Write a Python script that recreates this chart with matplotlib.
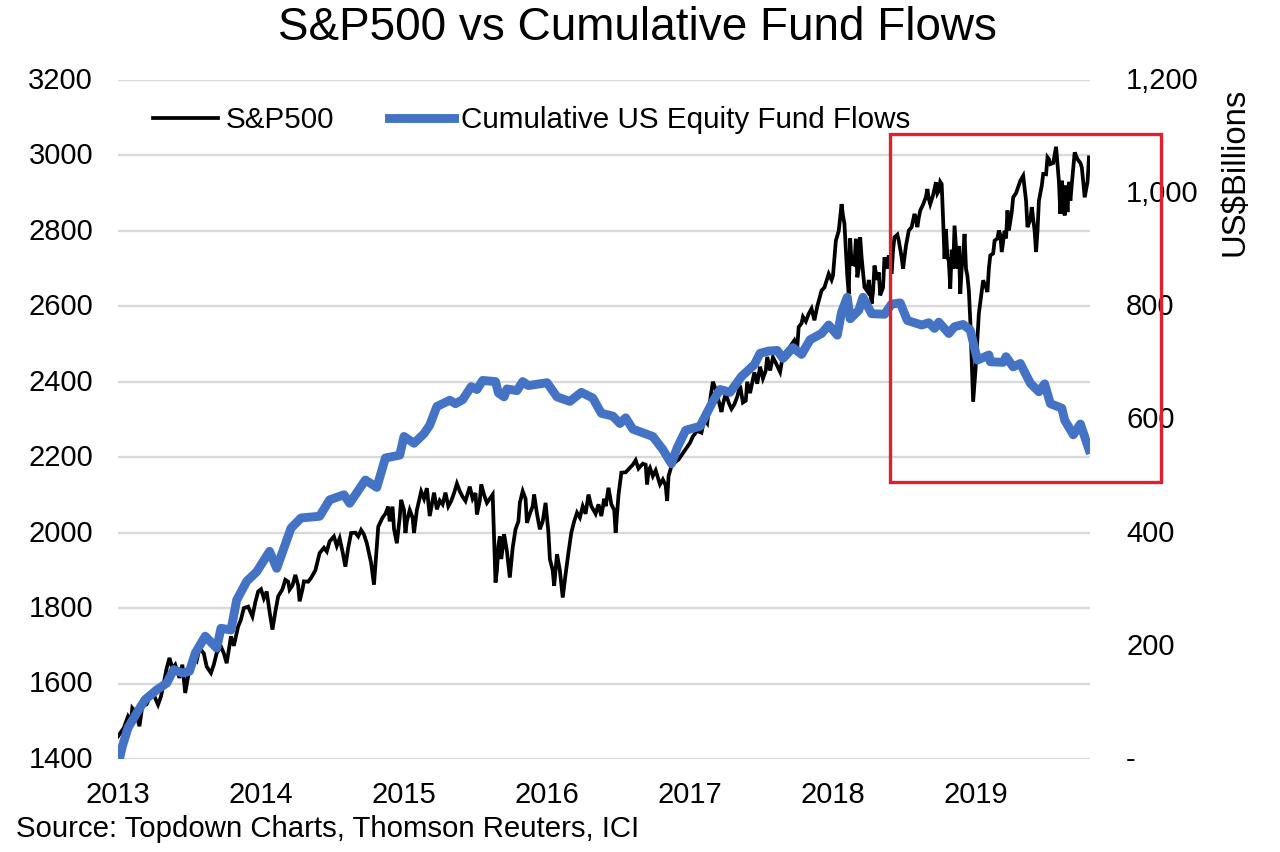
#!/usr/bin/env python3

import matplotlib
matplotlib.use('Agg')
import matplotlib.pyplot as plt
from matplotlib.patches import Rectangle
from matplotlib.transforms import ScaledTranslation
import numpy as np

plt.rcParams['font.family'] = ['Liberation Sans', 'DejaVu Sans']

# years since start of 2013
sp_t = [0.00, 0.04, 0.07, 0.12, 0.15, 0.17, 0.22, 0.28, 0.32, 0.36, 0.40, 0.43, 0.45, 0.47, 0.52, 0.57,
        0.62, 0.65, 0.69, 0.72, 0.76, 0.79, 0.84, 0.88, 0.91, 0.94, 0.98, 1.02, 1.04, 1.08, 1.12, 1.17,
        1.20, 1.24, 1.27, 1.30, 1.35, 1.41, 1.48, 1.55, 1.59, 1.63, 1.70, 1.74, 1.79, 1.82, 1.89, 1.92,
        1.95, 1.98, 2.01, 2.04, 2.07, 2.12, 2.16, 2.18, 2.21, 2.23, 2.29, 2.33, 2.37, 2.43, 2.46, 2.51,
        2.54, 2.58, 2.62, 2.64, 2.66, 2.68, 2.70, 2.74, 2.78, 2.81, 2.83, 2.86, 2.91, 2.95, 2.99, 3.02,
        3.05, 3.07, 3.11, 3.15, 3.21, 3.25, 3.29, 3.38, 3.43, 3.45, 3.48, 3.52, 3.58, 3.62, 3.67, 3.70,
        3.72, 3.79, 3.81, 3.84, 3.87, 3.92, 4.00, 4.05, 4.12, 4.16, 4.20, 4.23, 4.29, 4.33, 4.37, 4.40,
        4.45, 4.49, 4.51, 4.54, 4.63, 4.70, 4.76, 4.79, 4.85, 4.87, 4.92, 4.97, 5.00, 5.02, 5.06, 5.08,
        5.11, 5.13, 5.16, 5.17, 5.19, 5.22, 5.27, 5.29, 5.33, 5.36, 5.39, 5.41, 5.43, 5.46, 5.49, 5.53,
        5.57, 5.59, 5.61, 5.66, 5.68, 5.72, 5.74, 5.76, 5.78, 5.79, 5.82, 5.85, 5.89, 5.92, 5.95, 5.96,
        5.98, 6.02, 6.05, 6.08, 6.10, 6.13, 6.16, 6.18, 6.22, 6.23, 6.26, 6.31, 6.33, 6.36, 6.39, 6.42,
        6.44, 6.47, 6.50, 6.52, 6.56, 6.59, 6.60, 6.62, 6.67, 6.69, 6.74, 6.76, 6.79]
sp_values = [1460, 1482, 1513, 1526, 1487, 1540, 1562, 1544, 1601, 1668, 1650, 1615, 1650, 1575, 1672, 1694,
             1645, 1628, 1681, 1698, 1654, 1725, 1751, 1800, 1804, 1778, 1844, 1826, 1844, 1743, 1831, 1875,
             1849, 1888, 1818, 1871, 1880, 1946, 1977, 1985, 1910, 1999, 2007, 1972, 1862, 2016, 2069, 2069,
             1972, 2087, 1999, 2060, 1999, 2109, 2118, 2044, 2106, 2062, 2106, 2084, 2130, 2084, 2122, 2048,
             2128, 2079, 2101, 1868, 1965, 1930, 1996, 1881, 2009, 2079, 2110, 2026, 2101, 2009, 2079, 1930,
             1859, 1943, 1828, 1947, 2053, 2070, 2101, 2044, 2119, 2075, 2000, 2159, 2172, 2192, 2183, 2128,
             2172, 2128, 2141, 2084, 2176, 2194, 2238, 2270, 2290, 2400, 2350, 2340, 2328, 2360, 2345, 2400,
             2425, 2440, 2409, 2466, 2426, 2493, 2545, 2572, 2594, 2563, 2642, 2686, 2682, 2774, 2871, 2819,
             2633, 2713, 2779, 2677, 2783, 2651, 2607, 2708, 2629, 2730, 2735, 2686, 2783, 2774, 2700, 2801,
             2845, 2810, 2854, 2911, 2871, 2929, 2907, 2924, 2726, 2805, 2647, 2814, 2633, 2792, 2642, 2563,
             2347, 2581, 2669, 2638, 2735, 2774, 2801, 2744, 2854, 2801, 2889, 2933, 2946, 2810, 2863, 2744,
             2880, 2951, 2995, 2977, 3023, 2845, 2933, 2841, 2924, 3008, 2968, 2889, 2995]

# smaller weekly wiggles, read separately
sp_fine_t = [0.09, 0.10, 0.20, 0.25, 0.30, 0.34, 0.38, 0.50, 0.55, 0.60, 0.67, 0.74, 0.81, 0.86, 0.96, 1.00,
             1.06, 1.10, 1.15, 1.19, 1.22, 1.26, 1.29, 1.33, 1.38, 1.44, 1.46, 1.51, 1.53, 1.57, 1.61, 1.66,
             1.68, 1.72, 1.77, 1.85, 1.87, 1.90, 1.93, 1.97, 2.00, 2.02, 2.06, 2.09, 2.14, 2.25, 2.27, 2.31,
             2.35, 2.39, 2.41, 2.45, 2.48, 2.50, 2.53, 2.56, 2.60, 2.65, 2.67, 2.69, 2.72, 2.76, 2.80, 2.85,
             2.88, 2.90, 2.93, 2.97, 3.01, 3.04, 3.06, 3.09, 3.13, 3.17, 3.19, 3.23, 3.27, 3.31, 3.34, 3.36,
             3.40, 3.41, 3.47, 3.50, 3.55, 3.60, 3.64, 3.69, 3.71, 3.74, 3.76, 3.78, 3.83, 3.85, 3.89, 4.02,
             4.08, 4.10, 4.14, 4.18, 4.22, 4.25, 4.27, 4.31, 4.35, 4.39, 4.42, 4.47, 4.53, 4.56, 4.58, 4.60,
             4.65, 4.67, 4.73, 4.75, 4.78, 4.81, 4.83, 4.89, 4.94, 4.99, 5.04, 5.07, 5.10, 5.12, 5.15, 5.18,
             5.20, 5.21, 5.24, 5.25, 5.28, 5.31, 5.32, 5.35, 5.38, 5.42, 5.45, 5.48, 5.51, 5.55, 5.58, 5.60,
             5.63, 5.65, 5.67, 5.70, 5.73, 5.75, 5.77, 5.80, 5.81, 5.83, 5.84, 5.87, 5.88, 5.90, 5.91, 5.93,
             5.94, 6.00, 6.04, 6.07, 6.09, 6.12, 6.15, 6.17, 6.20, 6.21, 6.25, 6.28, 6.35, 6.38, 6.41, 6.43,
             6.46, 6.49, 6.51, 6.54, 6.58, 6.61, 6.63, 6.64, 6.65, 6.66, 6.71, 6.73, 6.75, 6.78]
sp_fine_values = [1500, 1535, 1545, 1570, 1565, 1640, 1640, 1640, 1660, 1680, 1650, 1680, 1700, 1770, 1815, 1850,
                  1790, 1790, 1850, 1870, 1860, 1860, 1850, 1870, 1900, 1960, 1950, 1990, 1965, 1950, 1960, 2000,
                  1990, 1995, 1920, 2040, 2050, 2030, 2010, 2040, 2060, 2030, 2040, 2060, 2090, 2085, 2075, 2070,
                  2105, 2110, 2095, 2110, 2090, 2105, 2085, 2100, 2090, 1900, 1990, 1960, 1950, 1960, 2030, 2090,
                  2050, 2070, 2050, 2030, 2000, 1900, 1900, 1900, 1890, 2000, 2030, 2040, 2050, 2070, 2050, 2075,
                  2090, 2070, 2060, 2100, 2160, 2180, 2170, 2180, 2165, 2150, 2165, 2140, 2125, 2150, 2185, 2255,
                  2265, 2300, 2350, 2380, 2320, 2370, 2345, 2340, 2390, 2350, 2370, 2395, 2430, 2430, 2465, 2450,
                  2470, 2480, 2510, 2490, 2555, 2560, 2580, 2600, 2650, 2670, 2800, 2840, 2680, 2780, 2710, 2700,
                  2730, 2690, 2640, 2670, 2640, 2670, 2690, 2650, 2700, 2750, 2790, 2730, 2760, 2810, 2830, 2835,
                  2870, 2890, 2885, 2895, 2900, 2930, 2830, 2730, 2720, 2750, 2700, 2700, 2760, 2700, 2740, 2700,
                  2680, 2450, 2640, 2650, 2700, 2740, 2780, 2790, 2800, 2780, 2850, 2900, 2880, 2830, 2800, 2800,
                  2920, 2950, 2990, 2980, 2930, 2900, 2920, 2850, 2930, 2880, 2990, 2980, 2930, 2930]

flow_t = [0.01, 0.03, 0.07, 0.13, 0.19, 0.27, 0.34, 0.39, 0.45, 0.50, 0.54, 0.61, 0.69, 0.72, 0.79, 0.83,
          0.90, 0.97, 1.06, 1.11, 1.21, 1.28, 1.41, 1.48, 1.58, 1.62, 1.73, 1.81, 1.87, 1.97, 2.00, 2.07,
          2.14, 2.18, 2.23, 2.32, 2.36, 2.41, 2.47, 2.51, 2.55, 2.64, 2.66, 2.70, 2.72, 2.79, 2.83, 2.87,
          3.00, 3.07, 3.16, 3.24, 3.32, 3.38, 3.46, 3.51, 3.55, 3.60, 3.74, 3.81, 3.87, 3.91, 3.97, 4.07,
          4.16, 4.21, 4.28, 4.36, 4.45, 4.49, 4.55, 4.61, 4.65, 4.72, 4.78, 4.84, 4.92, 4.97, 5.03, 5.06,
          5.10, 5.12, 5.18, 5.21, 5.27, 5.36, 5.41, 5.47, 5.52, 5.62, 5.67, 5.71, 5.74, 5.81, 5.85, 5.91,
          5.96, 6.01, 6.09, 6.10, 6.19, 6.21, 6.26, 6.31, 6.38, 6.44, 6.48, 6.52, 6.60, 6.62, 6.68, 6.73, 6.79]
flow_values = [0, 22, 55, 81, 105, 122, 134, 158, 152, 155, 187, 217, 196, 231, 228, 281,
               314, 331, 367, 337, 408, 426, 429, 458, 467, 452, 493, 480, 532, 537, 570, 558,
               575, 590, 623, 634, 628, 635, 658, 653, 669, 667, 647, 640, 654, 651, 667, 660,
               665, 640, 632, 648, 638, 611, 606, 593, 603, 583, 570, 547, 522, 550, 581, 588,
               632, 653, 648, 676, 697, 717, 721, 722, 708, 727, 715, 741, 752, 767, 749, 790,
               816, 778, 793, 816, 787, 786, 804, 806, 775, 767, 771, 761, 772, 752, 764, 768,
               758, 705, 714, 702, 701, 711, 693, 699, 664, 649, 663, 628, 620, 599, 573, 592, 547]

left_ticks = [1400, 1600, 1800, 2000, 2200, 2400, 2600, 2800, 3000, 3200]
right_ticks = [0, 200, 400, 600, 800, 1000, 1200]
right_labels = ['-', '200', '400', '600', '800', '1,000', '1,200']
year_ticks = [2013, 2014, 2015, 2016, 2017, 2018, 2019]

W, H = 1280, 852
fig = plt.figure(figsize=(12.8, 8.52), dpi=100)
ax1 = fig.add_axes([118/W, 1-759/H, (1090-118)/W, (759-80)/H])
ax2 = ax1.twinx()

sp_all_t = np.array(sp_t + sp_fine_t)
sp_all_values = np.array(sp_values + sp_fine_values)
order = np.argsort(sp_all_t)

ax1.plot(2013 + sp_all_t[order], sp_all_values[order], color='black', lw=2.7, solid_joinstyle='miter', label='S&P500')
ax2.plot(2013 + np.array(flow_t), flow_values, color='#4472c4', lw=6.4, solid_joinstyle='round',
         label='Cumulative US Equity Fund Flows')

ax1.set_xlim(2013, 2013 + (1090-118)/143)
ax1.set_ylim(1400, 3200)
ax2.set_ylim(0, 1200)
ax1.set_yticks(left_ticks)
ax2.set_yticks(right_ticks)
ax2.set_yticklabels(right_labels)
ax1.set_xticks(year_ticks)
ax1.grid(axis='y', color='#d9d9d9', lw=1.7)
ax1.set_axisbelow(True)
ax1.tick_params(axis='x', length=0, pad=16, labelsize=21)
ax1.tick_params(axis='y', length=0, pad=18, labelsize=21)
ax2.tick_params(axis='y', length=0, pad=26, labelsize=21)
for ax in (ax1, ax2):
    for s in ax.spines.values():
        s.set_visible(False)
# y labels sit a little above their gridlines
nudge = ScaledTranslation(0, 1.5/72, fig.dpi_scale_trans)
for lab in ax1.get_yticklabels() + ax2.get_yticklabels():
    lab.set_transform(lab.get_transform() + nudge)

h1, l1 = ax1.get_legend_handles_labels()
h2, l2 = ax2.get_legend_handles_labels()
ax2.legend(h1 + h2, l1 + l2, ncol=2, frameon=False, fontsize=21.3, loc='upper left',
           bbox_to_anchor=(35/972, 1-26/679), borderaxespad=0, borderpad=0,
           handlelength=2.2, handletextpad=0.25, columnspacing=1.85)

fig.text(637/W, 1-28/H, 'S&P500 vs Cumulative Fund Flows', fontsize=33, ha='center', va='center')
fig.text(1235/W, 1-172/H, 'US$Billions', fontsize=23.7, rotation=90, ha='center', va='center')
fig.text(16/W, 1-829/H, 'Source: Topdown Charts, Thomson Reuters, ICI', fontsize=21.15, ha='left', va='center')

fig.add_artist(Rectangle((889.5/W, 1-482/H), (1160.5-889.5)/W, (482-134)/H, transform=fig.transFigure,
                         fill=False, edgecolor='#e0202c', lw=2.4))

plt.savefig('out.png', dpi=100)
plt.close()
